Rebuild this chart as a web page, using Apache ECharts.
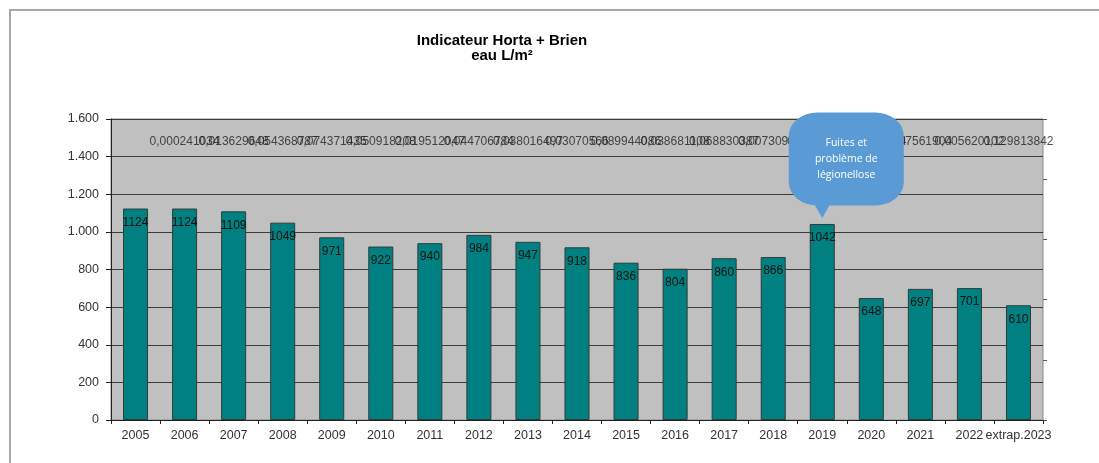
<!DOCTYPE html>
<html>
<head>
<meta charset="utf-8">
<script src="https://cdn.jsdelivr.net/npm/echarts@6/dist/echarts.min.js"></script>
<style>
  html, body { margin: 0; padding: 0; background: #fff; }
  #wrap { position: relative; width: 1099px; height: 463px; overflow: hidden; }
  #frame { position: absolute; left: 9px; top: 9px; width: 1100px; height: 470px;
           border-left: 2px solid #a8a8a8; border-top: 2px solid #a8a8a8; pointer-events: none; }
  #chart { position: absolute; left: 0; top: 0; width: 1099px; height: 463px; }
</style>
</head>
<body>
<div id="wrap">
  <div id="chart"></div>
  <div id="frame"></div>
</div>
<script>
const titleLine1 = 'Indicateur Horta + Brien';
const titleLine2 = 'eau L/m²';
const categories = ['2005','2006','2007','2008','2009','2010','2011','2012','2013','2014','2015','2016','2017','2018','2019','2020','2021','2022','extrap.2023'];
const consumption = [1124,1124,1109,1049,971,922,940,984,947,918,836,804,860,866,1042,648,697,701,610];
const variation = [null,0.000241034,0.013629648,0.054368787,0.074371435,0.050918208,0.019512047,0.044706784,0.038016497,0.03070566,0.089944086,0.038681108,0.068830387,0.007309091,0.203244389,0.378251904,0.075619040,0.005620102,0.129813842];
const yTicks = [0,200,400,600,800,1000,1200,1400,1600];
const calloutCategory = '2019';
const calloutText = 'Fuites et\nproblème de\nlégionellose';

const chart = echarts.init(document.getElementById('chart'), null, {renderer: 'canvas'});
const calloutIdx = categories.indexOf(calloutCategory);
const fmtThousands = v => String(v).replace(/\B(?=(\d{3})+(?!\d))/g, '.');

chart.setOption({
  animation: false,
  backgroundColor: 'transparent',
  title: {
    text: titleLine1 + '\n' + titleLine2,
    left: 497, top: 28, textAlign: 'center',
    textStyle: { fontFamily: 'Liberation Sans, Arial', fontSize: 15, fontWeight: 'bold', color: '#000', lineHeight: 15 }
  },
  grid: {
    left: 111, right: 56, top: 119, bottom: 43,
    show: true, backgroundColor: '#c0c0c0', borderColor: '#8a8a8a', borderWidth: 1
  },
  xAxis: {
    type: 'category', data: categories,
    axisLine: { lineStyle: { color: '#222', width: 1 } },
    axisTick: { show: true, length: 4, lineStyle: { color: '#222' } },
    axisLabel: { interval: 0, color: '#333', fontFamily: 'Liberation Sans, Arial', fontSize: 12.5, margin: 9 }
  },
  yAxis: [{
    type: 'value', min: yTicks[0], max: yTicks[yTicks.length - 1], interval: yTicks[1] - yTicks[0],
    axisLine: { show: true, lineStyle: { color: '#222' } },
    axisTick: { show: true, length: 5, lineStyle: { color: '#222' } },
    axisLabel: { color: '#333', fontFamily: 'Liberation Sans, Arial', fontSize: 12.5, margin: 12, formatter: fmtThousands },
    splitLine: { lineStyle: { color: '#3c3c3c', width: 1 } }
  }, {
    type: 'value', min: -0.4, max: 0.6, interval: 0.2, position: 'right',
    axisLine: { show: false },
    axisTick: { show: true, length: 4, lineStyle: { color: '#555' } },
    axisLabel: { show: false },
    splitLine: { show: false }
  }],
  series: [{
    type: 'scatter', name: 'variation', yAxisIndex: 1, z: 1,
    data: variation,
    symbolSize: 1, itemStyle: { color: 'rgba(0,0,0,0)' },
    label: {
      show: true, position: 'inside', color: '#222',
      fontFamily: 'Liberation Sans Narrow, Liberation Sans, Arial', fontSize: 12,
      formatter: p => (p.value == null || p.value === '-') ? '' : String(p.value).replace('.', ',')
    },
    labelLayout: () => ({ y: 142, align: 'center', verticalAlign: 'middle' })
  }, {
    type: 'bar', name: 'eau L/m²', z: 5,
    data: consumption,
    barWidth: '51%',
    itemStyle: { color: '#008080', borderColor: '#2e3b3b', borderWidth: 1 },
    label: {
      show: true, position: 'insideTop', distance: 8, color: '#111',
      fontFamily: 'Liberation Sans Narrow, Liberation Sans, Arial', fontSize: 12
    },
    markPoint: {
      z: 10,
      silent: true,
      data: [{
        coord: [calloutIdx, consumption[calloutIdx]],
        symbol: 'triangle', symbolRotate: 180, symbolSize: [16, 14], symbolOffset: [0, -13],
        itemStyle: { color: '#5b9bd5' }, label: { show: false }
      }, {
        coord: [calloutIdx, consumption[calloutIdx]],
        symbol: 'roundRect', symbolSize: [115, 93], symbolOffset: [24, -65],
        itemStyle: { color: '#5b9bd5' },
        label: {
          show: true, position: 'inside',
          formatter: () => calloutText, color: '#fff',
          fontFamily: 'Open Sans, Noto Sans', fontSize: 10.5, lineHeight: 16, align: 'center'
        }
      }]
    }
  }]
});
</script>
</body>
</html>
